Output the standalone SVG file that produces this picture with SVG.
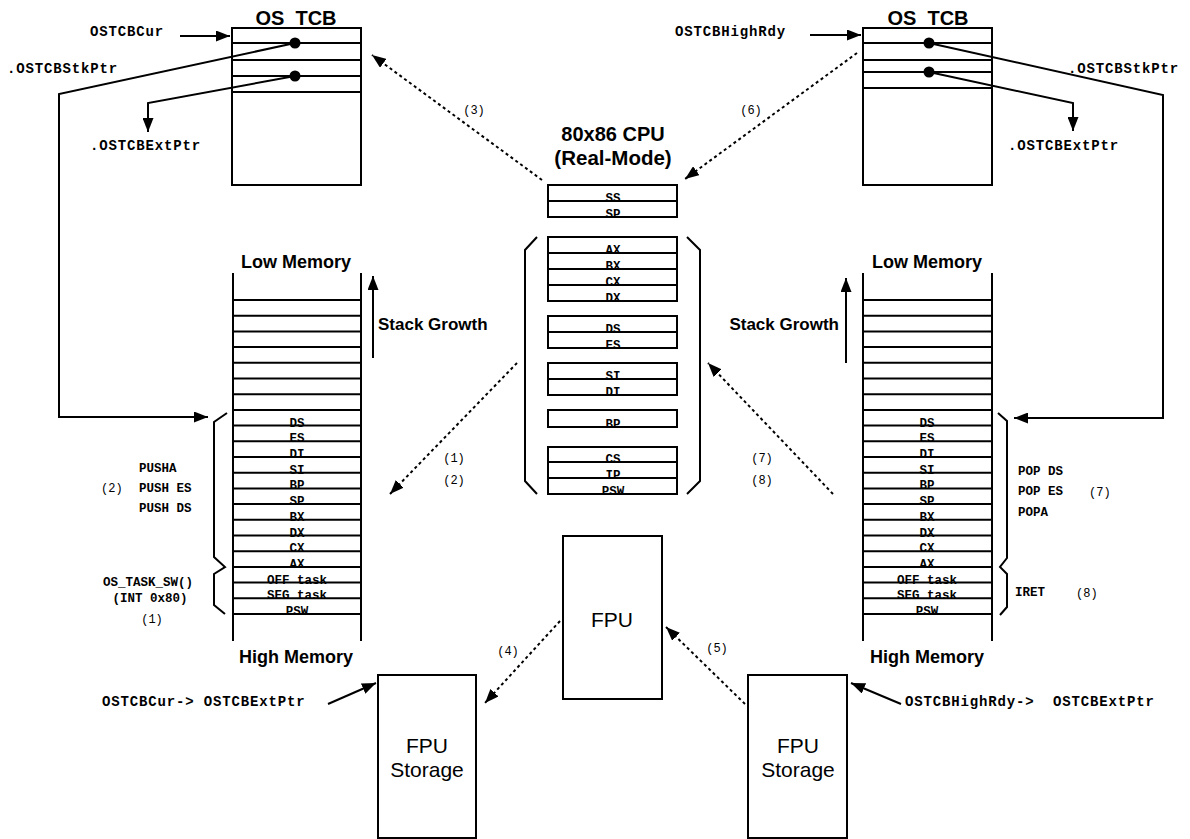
<svg xmlns="http://www.w3.org/2000/svg" width="1190" height="839" viewBox="0 0 1190 839">
<style>
.ln{fill:none;stroke:#000;stroke-width:2}
.bx{fill:#fff;stroke:#000;stroke-width:2}
.dash{fill:none;stroke:#000;stroke-width:2;stroke-dasharray:3,3}
.t{font-family:"Liberation Sans",Arial,sans-serif;font-weight:bold;fill:#000}
.f{font-family:"Liberation Sans",Arial,sans-serif;fill:#000}
.m{font-family:"Liberation Mono","Courier New",monospace;font-weight:bold;font-size:14px;letter-spacing:0.85px;fill:#000}
.r{font-family:"Liberation Mono","Courier New",monospace;font-weight:bold;font-size:12.5px;fill:#000;text-anchor:middle}
.n{font-family:"Liberation Mono","Courier New",monospace;font-size:12px;fill:#000}
</style>
<defs>
<marker id="ah" markerUnits="userSpaceOnUse" markerWidth="15" markerHeight="11" refX="14" refY="5.5" orient="auto">
<path d="M0,0 L14,5.5 L0,11 z" fill="#000"/>
</marker>
</defs>

<g id="tcb-left">
<text class="t" x="296" y="25" font-size="20" text-anchor="middle">OS_TCB</text>
<rect class="bx" x="232" y="28" width="129" height="157"/>
<path class="ln" d="M232,43H361 M232,60H361 M232,76H361 M232,92H361"/>
<circle cx="295" cy="43" r="5.5" fill="#000"/>
<circle cx="295" cy="76" r="5.5" fill="#000"/>
<text class="m" x="90" y="36">OSTCBCur</text>
<text class="m" x="7" y="73">.OSTCBStkPtr</text>
<text class="m" x="90" y="150">.OSTCBExtPtr</text>
</g>

<g id="tcb-right">
<text class="t" x="928" y="25" font-size="20" text-anchor="middle">OS_TCB</text>
<rect class="bx" x="863" y="28" width="129" height="157"/>
<path class="ln" d="M863,43H992 M863,60H992 M863,72H992 M863,88H992"/>
<circle cx="929" cy="43" r="5.5" fill="#000"/>
<circle cx="929" cy="72" r="5.5" fill="#000"/>
<text class="m" x="675" y="36">OSTCBHighRdy</text>
<text class="m" x="1068" y="73">.OSTCBStkPtr</text>
<text class="m" x="1008" y="150">.OSTCBExtPtr</text>
</g>

<g id="cpu">
<text class="t" x="613" y="141" font-size="20" text-anchor="middle">80x86 CPU</text>
<text class="t" x="613" y="165" font-size="20.5" text-anchor="middle">(Real-Mode)</text>
<rect class="bx" x="548" y="185" width="129" height="32"/>
<path class="ln" d="M548,201H677"/>
<rect class="bx" x="548" y="237" width="129" height="64"/>
<path class="ln" d="M548,253H677 M548,269H677 M548,285H677"/>
<rect class="bx" x="548" y="316" width="129" height="32"/>
<path class="ln" d="M548,332H677"/>
<rect class="bx" x="548" y="363" width="129" height="32"/>
<path class="ln" d="M548,379H677"/>
<rect class="bx" x="548" y="410" width="129" height="17"/>
<rect class="bx" x="548" y="447" width="129" height="47"/>
<path class="ln" d="M548,462H677 M548,478H677"/>
<path class="ln" d="M537,237 L525,250 L525,481 L537,494"/>
<path class="ln" d="M687,237 L700,250 L700,481 L687,494"/>
<text class="r" x="613" y="202">SS</text>
<text class="r" x="613" y="218">SP</text>
<text class="r" x="613" y="254">AX</text>
<text class="r" x="613" y="270">BX</text>
<text class="r" x="613" y="286">CX</text>
<text class="r" x="613" y="302">DX</text>
<text class="r" x="613" y="333">DS</text>
<text class="r" x="613" y="349">ES</text>
<text class="r" x="613" y="380">SI</text>
<text class="r" x="613" y="396">DI</text>
<text class="r" x="613" y="428">BP</text>
<text class="r" x="613" y="463">CS</text>
<text class="r" x="613" y="479">IP</text>
<text class="r" x="613" y="495">PSW</text>
</g>

<g id="stack-left">
<text class="t" x="296" y="268" font-size="18" text-anchor="middle">Low Memory</text>
<text class="t" x="296" y="663" font-size="18" text-anchor="middle">High Memory</text>
<path class="ln" d="M233,273V641 M361,273V641"/>
<path class="ln" d="M233,300H361 M233,315.7H361 M233,331.4H361 M233,347.1H361 M233,362.8H361 M233,378.5H361 M233,394.2H361 M233,409.9H361 M233,425.6H361 M233,441.3H361 M233,457H361 M233,472.7H361 M233,488.4H361 M233,504.1H361 M233,519.8H361 M233,535.5H361 M233,551.2H361 M233,566.9H361 M233,582.6H361 M233,598.3H361 M233,614H361"/>
<text class="r" x="297" y="426.6">DS</text>
<text class="r" x="297" y="442.3">ES</text>
<text class="r" x="297" y="458">DI</text>
<text class="r" x="297" y="473.7">SI</text>
<text class="r" x="297" y="489.4">BP</text>
<text class="r" x="297" y="505.1">SP</text>
<text class="r" x="297" y="520.8">BX</text>
<text class="r" x="297" y="536.5">DX</text>
<text class="r" x="297" y="552.2">CX</text>
<text class="r" x="297" y="567.9">AX</text>
<text class="r" x="297" y="583.6">OFF task</text>
<text class="r" x="297" y="599.3">SEG task</text>
<text class="r" x="297" y="615">PSW</text>
<path class="ln" d="M373,358V276" marker-end="url(#ah)"/>
<text class="t" x="378" y="330" font-size="17">Stack Growth</text>
<path class="ln" d="M227,413 L214,422 L214,557 L225,567 L214,574 L214,605 L225,614"/>
<text class="r" x="158" y="472" text-anchor="middle" style="text-anchor:start" dx="-19">PUSHA</text>
<text class="n" x="101" y="492">(2)</text>
<text class="r" x="139" y="492" style="text-anchor:start">PUSH ES</text>
<text class="r" x="139" y="512" style="text-anchor:start">PUSH DS</text>
<text class="r" x="148" y="586">OS_TASK_SW()</text>
<text class="r" x="150" y="602">(INT 0x80)</text>
<text class="n" x="152" y="623" text-anchor="middle">(1)</text>
</g>

<g id="stack-right">
<text class="t" x="927" y="268" font-size="18" text-anchor="middle">Low Memory</text>
<text class="t" x="927" y="663" font-size="18" text-anchor="middle">High Memory</text>
<path class="ln" d="M863,273V641 M992,273V641"/>
<path class="ln" d="M863,300H992 M863,315.7H992 M863,331.4H992 M863,347.1H992 M863,362.8H992 M863,378.5H992 M863,394.2H992 M863,409.9H992 M863,425.6H992 M863,441.3H992 M863,457H992 M863,472.7H992 M863,488.4H992 M863,504.1H992 M863,519.8H992 M863,535.5H992 M863,551.2H992 M863,566.9H992 M863,582.6H992 M863,598.3H992 M863,614H992"/>
<text class="r" x="927" y="426.6">DS</text>
<text class="r" x="927" y="442.3">ES</text>
<text class="r" x="927" y="458">DI</text>
<text class="r" x="927" y="473.7">SI</text>
<text class="r" x="927" y="489.4">BP</text>
<text class="r" x="927" y="505.1">SP</text>
<text class="r" x="927" y="520.8">BX</text>
<text class="r" x="927" y="536.5">DX</text>
<text class="r" x="927" y="552.2">CX</text>
<text class="r" x="927" y="567.9">AX</text>
<text class="r" x="927" y="583.6">OFF task</text>
<text class="r" x="927" y="599.3">SEG task</text>
<text class="r" x="927" y="615">PSW</text>
<path class="ln" d="M846,363V278" marker-end="url(#ah)"/>
<text class="t" x="839" y="330" font-size="17" text-anchor="end">Stack Growth</text>
<path class="ln" d="M998,413 L1007,421 L1007,558 L1000,567 L1007,574 L1007,607 L1000,615"/>
<text class="r" x="1018" y="475" style="text-anchor:start">POP DS</text>
<text class="r" x="1018" y="495" style="text-anchor:start">POP ES</text>
<text class="n" x="1089" y="496">(7)</text>
<text class="r" x="1018" y="516" style="text-anchor:start">POPA</text>
<text class="r" x="1015" y="596" style="text-anchor:start">IRET</text>
<text class="n" x="1076" y="597">(8)</text>
</g>

<g id="fpu">
<rect class="bx" x="563" y="536" width="99" height="163"/>
<text class="f" x="612" y="627" font-size="21" text-anchor="middle">FPU</text>
</g>

<g id="fpu-storage-left">
<rect class="bx" x="378" y="675" width="98" height="163"/>
<text class="f" x="427" y="753" font-size="21" text-anchor="middle">FPU</text>
<text class="f" x="427" y="777" font-size="21" text-anchor="middle">Storage</text>
<text class="m" x="102" y="706">OSTCBCur-&gt; OSTCBExtPtr</text>
</g>

<g id="fpu-storage-right">
<rect class="bx" x="748" y="675" width="99" height="163"/>
<text class="f" x="798" y="753" font-size="21" text-anchor="middle">FPU</text>
<text class="f" x="798" y="777" font-size="21" text-anchor="middle">Storage</text>
<text class="m" x="905" y="706" xml:space="preserve">OSTCBHighRdy-&gt;  OSTCBExtPtr</text>
</g>

<g id="connectors">
<path class="ln" d="M180,36 L230,36" marker-end="url(#ah)"/>
<path class="ln" d="M810,35 L861,35" marker-end="url(#ah)"/>
<path class="ln" d="M295,43 L59,94 L59,417 L208,417" marker-end="url(#ah)"/>
<path class="ln" d="M295,76 L148,103 L148,132" marker-end="url(#ah)"/>
<path class="ln" d="M929,43 L1163,95 L1163,418 L1014,418" marker-end="url(#ah)"/>
<path class="ln" d="M929,72 L1073,103 L1073,131" marker-end="url(#ah)"/>
<path class="ln" d="M328,704 L376,683" marker-end="url(#ah)"/>
<path class="ln" d="M901,704 L851,683" marker-end="url(#ah)"/>
<path class="dash" d="M542,180 L372,55" marker-end="url(#ah)"/>
<path class="dash" d="M857,53 L685,179" marker-end="url(#ah)"/>
<path class="dash" d="M517,363 L390,494" marker-end="url(#ah)"/>
<path class="dash" d="M833,494 L708,363" marker-end="url(#ah)"/>
<path class="dash" d="M560,621 L485,703" marker-end="url(#ah)"/>
<path class="dash" d="M745,704 L666,627" marker-end="url(#ah)"/>
<text class="n" x="474" y="114" text-anchor="middle">(3)</text>
<text class="n" x="751" y="114" text-anchor="middle">(6)</text>
<text class="n" x="454" y="462" text-anchor="middle">(1)</text>
<text class="n" x="454" y="484" text-anchor="middle">(2)</text>
<text class="n" x="762" y="462" text-anchor="middle">(7)</text>
<text class="n" x="762" y="484" text-anchor="middle">(8)</text>
<text class="n" x="508" y="655" text-anchor="middle">(4)</text>
<text class="n" x="717" y="652" text-anchor="middle">(5)</text>
</g>
</svg>
